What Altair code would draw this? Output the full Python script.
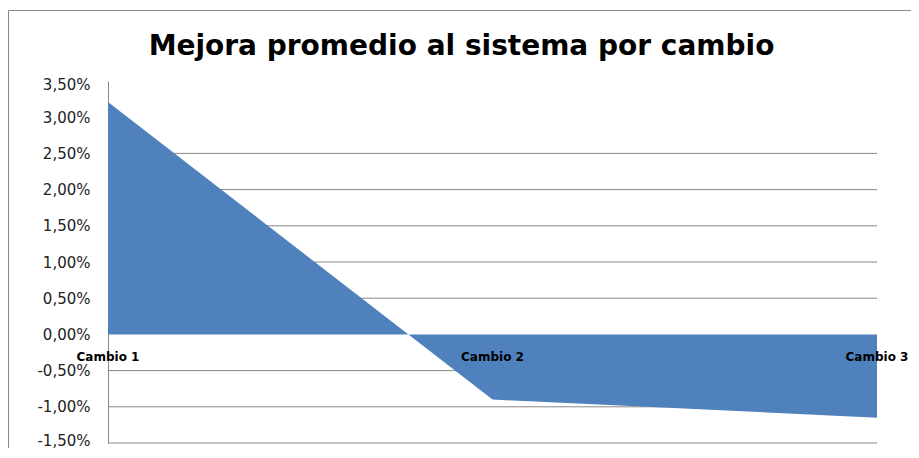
import altair as alt
import pandas as pd

titulo = "Mejora promedio al sistema por cambio"
cambios = ["Cambio 1", "Cambio 2", "Cambio 3"]
posicion = [0, 1, 2]
mejora = [0.0321, -0.0090, -0.0115]
marcas_eje = [0.035, 0.03, 0.025, 0.02, 0.015, 0.01, 0.005, 0.0, -0.005, -0.01, -0.015]
lineas_guia = [0.025, 0.02, 0.015, 0.01, 0.005, -0.005, -0.01, -0.015]

df = pd.DataFrame({"pos": posicion, "mejora": mejora, "cambio": cambios})
grid = pd.DataFrame({"v": lineas_guia})

xs = alt.Scale(domain=[0, 2], nice=False, padding=0)
ys = alt.Scale(domain=[-0.015, 0.035], nice=False)

label_expr = "replace(replace(format(datum.value, '.2%'), '.', ','), '\u2212', '-')"

eje_y = alt.Axis(
    values=marcas_eje,
    labelExpr=label_expr,
    grid=False,
    ticks=False,
    domainColor="#888888",
    labelPadding=18,
    labelFont="DejaVu Sans",
    labelFontSize=15,
    labelColor="#222222",
    labelFlush=False,
    labelOverlap=False,
    labelOffset={
        "condition": [
            {"test": "datum.value > 0.034", "value": 3},
            {"test": "datum.value < -0.014", "value": -3},
        ],
        "value": 0,
    },
    title=None,
)

marco = alt.Chart(alt.Data(values=[{"a": 1}])).mark_rect(
    fill="transparent", stroke="#8a8a8a", strokeWidth=1
).encode(
    x=alt.value(-99.5), x2=alt.value(1200), y=alt.value(-70.5), y2=alt.value(1200)
)

guias = alt.Chart(grid).mark_rule(color="#888888", strokeWidth=1).encode(
    y=alt.Y("v:Q", scale=ys, axis=eje_y)
)

area = alt.Chart(df).mark_area(color="#4F81BD", opacity=1, interpolate="linear").encode(
    x=alt.X("pos:Q", scale=xs, axis=None),
    y=alt.Y("mejora:Q", scale=ys, axis=eje_y),
)

etiquetas = alt.Chart(df).mark_text(
    font="DejaVu Sans", fontWeight="bold", fontSize=12, dy=23, color="#000000", align="center"
).encode(
    x=alt.X("pos:Q", scale=xs, axis=None),
    y=alt.YDatum(0, axis=eje_y),
    text="cambio:N",
)

chart = alt.layer(marco, guias, area, etiquetas).properties(
    width=769,
    height=362,
    background="white",
    autosize=alt.AutoSizeParams(type="none"),
    padding={"left": 100, "top": 73, "right": 34, "bottom": 5},
    title=alt.TitleParams(
        text=titulo,
        font="DejaVu Sans",
        fontSize=28,
        fontWeight="bold",
        color="#000000",
        anchor="middle",
        frame="group",
        dx=-31,
        dy=91,
        offset=18,
        baseline="alphabetic",
    ),
).configure_view(strokeWidth=0, stroke="transparent")

chart.save("out.html", embed_options={"renderer": "svg", "actions": False})
